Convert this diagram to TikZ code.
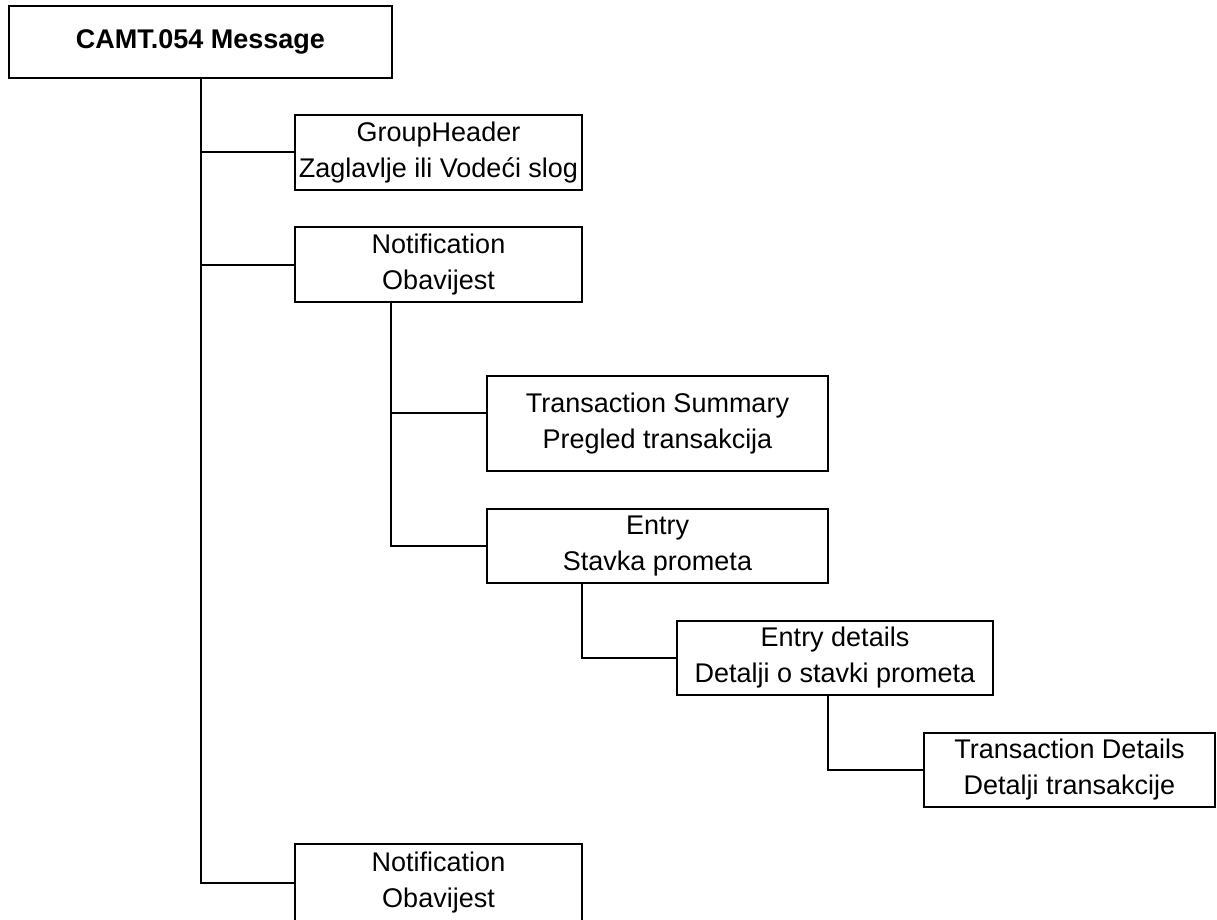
\documentclass[tikz,border=0pt]{standalone}
\usepackage{fontspec}
\setmainfont{Liberation Sans}
\begin{document}
\begin{tikzpicture}[x=1pt,y=-1pt,
  box/.style={draw, line width=2pt, inner sep=0pt, align=center,
    font=\fontsize{27}{36}\selectfont, fill=white},
  conn/.style={line width=2pt}]
\useasboundingbox (0,0) rectangle (1217,920);
% connectors first (boxes drawn on top)
\node[box, minimum width=383pt, minimum height=72pt, font=\fontsize{27}{36}\selectfont\bfseries] (camt) at (200.5,42) {CAMT.054 Message};
\node[box, minimum width=287pt, minimum height=75pt] (gh) at (438.5,152.5) {GroupHeader\\Zaglavlje ili Vodeći slog};
\node[box, minimum width=287pt, minimum height=75pt] (n1) at (438.5,264.5) {Notification\\Obavijest};
\node[box, minimum width=341pt, minimum height=95pt] (ts) at (657.5,423.5) {Transaction Summary\\Pregled transakcija};
\node[box, minimum width=341pt, minimum height=74pt] (en) at (657.5,546) {Entry\\Stavka prometa};
\node[box, minimum width=316pt, minimum height=74pt] (ed) at (835,658) {Entry details\\Detalji o stavki prometa};
\node[box, minimum width=291pt, minimum height=74pt] (td) at (1069.5,770) {Transaction Details\\Detalji transakcije};
\node[box, minimum width=287pt, minimum height=78pt] (n2) at (438.5,883) {Notification\\Obavijest};
\coordinate (n1d) at (391,302);
\coordinate (end) at (582,583);
\coordinate (edd) at (828,695);
\draw[conn] (camt.south) |- (gh.west);
\draw[conn] (camt.south) |- (n1.west);
\draw[conn] (camt.south) |- (n2.west);
\draw[conn] (n1d) |- ([yshift=10.5pt]ts.west);
\draw[conn] (n1d) |- (en.west);
\draw[conn] (end) |- (ed.west);
\draw[conn] (edd) |- (td.west);
\end{tikzpicture}
\end{document}
